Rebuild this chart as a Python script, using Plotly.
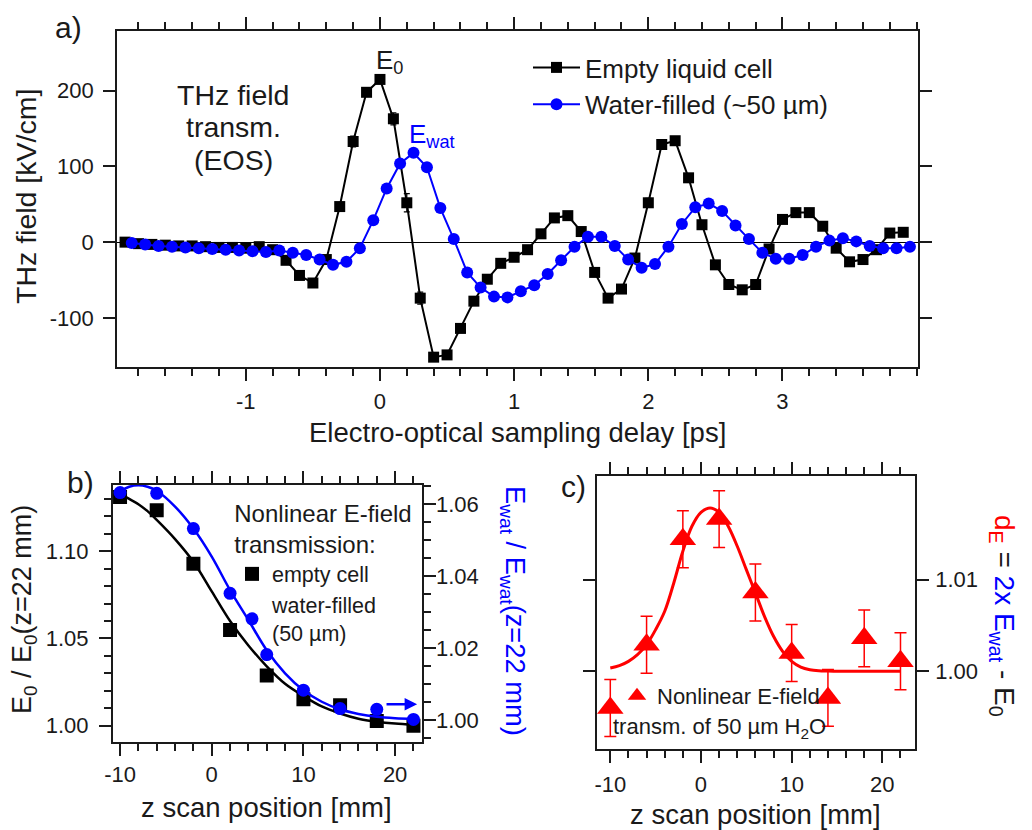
import plotly.graph_objects as go

# ---------------- panel a : THz field transients ----------------
t_empty = [-1.9, -1.8, -1.7, -1.6, -1.5, -1.4, -1.3, -1.2, -1.1, -1.0,
           -0.9, -0.8, -0.7, -0.6, -0.5, -0.4, -0.3, -0.2, -0.1,
           0.0, 0.1, 0.2, 0.3, 0.4, 0.5, 0.6, 0.7, 0.8, 0.9,
           1.0, 1.1, 1.2, 1.3, 1.4, 1.5, 1.6, 1.7, 1.8, 1.9,
           2.0, 2.1, 2.2, 2.3, 2.4, 2.5, 2.6, 2.7, 2.8, 2.9,
           3.0, 3.1, 3.2, 3.3, 3.4, 3.5, 3.6, 3.7, 3.8, 3.9]
E_empty = [0, -2, -3, -4, -5, -5, -6, -7, -7, -8,
           -6, -10, -24, -44, -54, -23, 47, 133, 198,
           215, 163, 52, -74, -152, -149, -114, -78, -49, -28,
           -20, -10, 11, 32, 35, 14, -40, -74, -62, -21,
           52, 129, 134, 85, 23, -30, -56, -63, -56, -9,
           30, 39, 39, 21, -8, -26, -23, -10, 12, 13]
err_empty = [3, 3, 3, 3, 3, 3, 3, 3, 3, 3,
             3, 3, 3, 3, 3, 3, 5, 7, 5,
             5, 8, 12, 8, 4, 3, 3, 3, 3, 3,
             3, 3, 3, 3, 3, 3, 3, 3, 3, 3,
             6, 4, 3, 3, 3, 3, 3, 3, 3, 3,
             3, 3, 3, 3, 3, 3, 3, 3, 3, 3]
t_water = [-1.85, -1.75, -1.65, -1.55, -1.45, -1.35, -1.25, -1.15, -1.05, -0.95,
           -0.85, -0.75, -0.65, -0.55, -0.45, -0.35, -0.25, -0.15, -0.05,
           0.05, 0.15, 0.25, 0.35, 0.45, 0.55, 0.65, 0.75, 0.85, 0.95,
           1.05, 1.15, 1.25, 1.35, 1.45, 1.55, 1.65, 1.75, 1.85, 1.95,
           2.05, 2.15, 2.25, 2.35, 2.45, 2.55, 2.65, 2.75, 2.85, 2.95,
           3.05, 3.15, 3.25, 3.35, 3.45, 3.55, 3.65, 3.75, 3.85, 3.95]
E_water = [-1, -3, -5, -6, -7, -8, -9, -10, -11, -12,
           -13, -11, -14, -17, -23, -30, -26, -8, 29,
           71, 104, 118, 99, 45, 4, -40, -60, -72, -73,
           -65, -57, -42, -24, -6, 7, 7, -5, -23, -34,
           -29, -6, 24, 46, 51, 41, 22, 4, -14, -22,
           -22, -17, -6, 2, 5, 1, -5, -8, -8, -6]
err_water = [2] * 19 + [3, 3, 3, 3, 5, 3, 3, 3, 3, 3] + [2] * 30

# ---------------- panel b : normalised peak fields vs z ----------------
z_pos = [-10, -6, -2, 2, 6, 10, 14, 18, 22]
ratio_empty = [1.1311, 1.1235, 1.0928, 1.0549, 1.0288, 1.0152, 1.0117, 1.0027, 1.0000]
ratio_water = [1.0632, 1.0630, 1.0532, 1.0352, 1.0182, 1.0083, 1.0032, 1.0030, 1.0002]
err_ratio_water = [0.0007] * 9
z_fit_b = [-10, -9, -8, -7, -6, -4, -2, 0, 2, 4, 6, 8, 10, 12, 14, 16, 18, 20, 22]
fit_empty = [1.133, 1.130, 1.127, 1.123, 1.118, 1.107, 1.094, 1.077, 1.060, 1.046,
             1.034, 1.024, 1.017, 1.011, 1.007, 1.004, 1.0023, 1.0012, 1.0005]
fit_water = [1.0635, 1.0648, 1.0652, 1.0648, 1.0637, 1.0593, 1.0532, 1.0454, 1.0361, 1.0278,
             1.0194, 1.0130, 1.0083, 1.0051, 1.0030, 1.0017, 1.0009, 1.0005, 1.0003]

# ---------------- panel c : d_E vs z ----------------
dE = [0.9960, 1.0029, 1.0144, 1.0166, 1.0086, 1.0020, 0.9971, 1.0036, 1.0011]
err_dE = [0.0031] * 9
z_fit_c = [-10, -9, -8, -7, -6, -5, -4, -3, -2, -1, 0, 1, 2, 3, 4, 5, 6, 7, 8, 9,
           10, 11, 12, 13, 14, 16, 18, 20, 22]
fit_dE = [1.00036, 1.00062, 1.00109, 1.00182, 1.00291, 1.00455, 1.00655, 1.00964,
          1.01309, 1.01582, 1.01734, 1.01782, 1.01734, 1.01582, 1.01364, 1.01109,
          1.00855, 1.00600, 1.00382, 1.00218, 1.00109, 1.00047, 1.00018, 1.00007,
          1.00004, 1.0, 1.0, 1.0, 1.0]

# tick labels
ticks_a_x = [-1, 0, 1, 2, 3]
ticks_a_y = [-100, 0, 100, 200]
ticks_z = [-10, 0, 10, 20]
ticks_b_left = [1.00, 1.05, 1.10]
ticks_b_right = [1.00, 1.02, 1.04, 1.06]
ticks_c = [1.00, 1.01]

W, H = 1032, 830
FONT = "Liberation Sans, Arial, sans-serif"
BLUE = "#0000ff"
RED = "#ff0000"
INK = "#1a1a1a"


def px(x):
    return x / W


def py(y):
    return 1 - y / H


fig = go.Figure()

# panel a traces
fig.add_trace(go.Scatter(
    x=t_empty, y=E_empty, mode="lines+markers", name="Empty liquid cell",
    line=dict(color="black", width=2),
    marker=dict(symbol="square", size=11, color="black"),
    error_y=dict(type="data", array=err_empty, color="black", thickness=1.2, width=3),
    xaxis="x", yaxis="y", legend="legend"))
fig.add_trace(go.Scatter(
    x=t_water, y=E_water, mode="lines+markers", name="Water-filled (~50 µm)",
    line=dict(color=BLUE, width=2),
    marker=dict(symbol="circle", size=12, color=BLUE),
    error_y=dict(type="data", array=err_water, color=BLUE, thickness=1.2, width=3),
    xaxis="x", yaxis="y", legend="legend"))

# panel b traces
fig.add_trace(go.Scatter(
    x=z_fit_b, y=fit_empty, mode="lines", line=dict(color="black", width=2.5, shape="spline"),
    showlegend=False, xaxis="x2", yaxis="y2"))
fig.add_trace(go.Scatter(
    x=z_fit_b, y=fit_water, mode="lines", line=dict(color=BLUE, width=2.5, shape="spline"),
    showlegend=False, xaxis="x2", yaxis="y3"))
fig.add_trace(go.Scatter(
    x=z_pos, y=ratio_empty, mode="markers", name="empty cell",
    marker=dict(symbol="square", size=14, color="black"),
    xaxis="x2", yaxis="y2", legend="legend2"))
fig.add_trace(go.Scatter(
    x=z_pos, y=ratio_water, mode="markers", name="water-filled<br>(50 µm)",
    marker=dict(symbol="circle", size=13, color=BLUE),
    error_y=dict(type="data", array=err_ratio_water, color=BLUE, thickness=1.5, width=4),
    xaxis="x2", yaxis="y3", legend="legend2"))

# panel c traces
fig.add_trace(go.Scatter(
    x=z_fit_c, y=fit_dE, mode="lines", line=dict(color=RED, width=3, shape="spline"),
    showlegend=False, xaxis="x3", yaxis="y4"))
fig.add_trace(go.Scatter(
    x=z_pos, y=dE, mode="markers", name="Nonlinear E-field",
    marker=dict(symbol="triangle-up", size=23, color=RED),
    error_y=dict(type="data", array=err_dE, color=RED, thickness=1.5, width=6),
    xaxis="x3", yaxis="y4", legend="legend3"))

base = dict(showline=True, linecolor=INK, linewidth=1.6, ticks="outside", tickcolor=INK,
            tickwidth=1.5, ticklen=12, showgrid=False, zeroline=False,
            tickfont=dict(family=FONT, size=22, color=INK), automargin=False)
minor_style = dict(ticks="outside", ticklen=7, tickwidth=1.5, tickcolor=INK, showgrid=False)

fig.update_layout(
    width=W, height=H, margin=dict(l=0, r=0, t=0, b=0),
    paper_bgcolor="white", plot_bgcolor="white",
    font=dict(family=FONT, color=INK),
    xaxis=dict(base, domain=[px(117), px(918)], anchor="y", range=[-1.96, 4.01],
               tickmode="array", tickvals=ticks_a_x, ticktext=[str(v) for v in ticks_a_x],
               mirror="ticks", ticklabelstandoff=2,
               minor=dict(minor_style, dtick=0.2, tick0=0)),
    yaxis=dict(base, domain=[py(367), py(31)], anchor="x", range=[-165, 279],
               tickmode="array", tickvals=ticks_a_y, ticktext=[str(v) for v in ticks_a_y],
               mirror="ticks", zeroline=True, zerolinecolor="black", zerolinewidth=1.2,
               ticklabelstandoff=5),
    xaxis2=dict(base, domain=[px(112.7), px(421.7)], anchor="y2", range=[-10.8, 22.9],
                tickmode="array", tickvals=ticks_z, ticktext=[str(v) for v in ticks_z],
                mirror="ticks", ticklabelstandoff=0,
                minor=dict(minor_style, dtick=2, tick0=0)),
    yaxis2=dict(base, domain=[py(741.7), py(485)], anchor="x2", range=[0.9908, 1.138],
                tickmode="array", tickvals=ticks_b_left,
                ticktext=["%.2f" % v for v in ticks_b_left], mirror=False,
                ticklabelstandoff=6,
                minor=dict(minor_style, dtick=0.01, tick0=1.0)),
    yaxis3=dict(base, domain=[py(741.7), py(485)], anchor="x2", overlaying="y2", side="right",
                range=[0.994, 1.0653], tickmode="array", tickvals=ticks_b_right,
                ticktext=["%.2f" % v for v in ticks_b_right], ticklabelstandoff=-4,
                minor=dict(minor_style, dtick=0.005, tick0=1.0)),
    xaxis3=dict(base, domain=[px(596.7), px(915)], anchor="y4", range=[-11.5, 23.6],
                tickmode="array", tickvals=ticks_z, ticktext=[str(v) for v in ticks_z],
                mirror="ticks", ticklabelstandoff=2,
                minor=dict(minor_style, dtick=2, tick0=0)),
    yaxis4=dict(base, domain=[py(749.3), py(476)], anchor="x3", side="right",
                range=[0.9915, 1.0213], tickmode="array", tickvals=ticks_c,
                ticktext=["%.2f" % v for v in ticks_c], mirror="ticks", ticklabelstandoff=2),
    legend=dict(x=px(528), y=py(44), xanchor="left", yanchor="top", bgcolor="rgba(0,0,0,0)",
                font=dict(family=FONT, size=26, color=INK), itemwidth=47,
                tracegroupgap=0, traceorder="normal"),
    legend2=dict(x=px(232), y=py(491), xanchor="left", yanchor="top", bgcolor="rgba(0,0,0,0)",
                 font=dict(family=FONT, size=21.5, color=INK), itemwidth=30,
                 title=dict(text="Nonlinear E-field<br>transmission:", side="top center",
                            font=dict(family=FONT, size=24, color=INK))),
    legend3=dict(x=px(617), y=py(675), xanchor="left", yanchor="top", bgcolor="rgba(0,0,0,0)",
                 font=dict(family=FONT, size=22, color=INK), itemwidth=30),
)

annos = [
    dict(text="a)", x=68, y=27, size=30, color=INK),
    dict(text="b)", x=80, y=482, size=30, color=INK),
    dict(text="c)", x=573, y=486, size=30, color=INK),
    dict(text="Electro-optical sampling delay [ps]", x=517, y=432, size=27.5, color=INK),
    dict(text="THz field [kV/cm]", x=26, y=197, size=28.5, color=INK, angle=-90),
    dict(text="THz field", x=233, y=95, size=28.5, color=INK),
    dict(text="transm.", x=233, y=127, size=28.5, color=INK),
    dict(text="(EOS)", x=233, y=160, size=28.5, color=INK),
    dict(text="E<sub>0</sub>", x=389, y=62, size=26, color=INK),
    dict(text="E<sub>wat</sub>", x=432, y=136, size=26, color=BLUE),
    dict(text="z scan position [mm]", x=266, y=807, size=27.5, color=INK),
    dict(text="E<sub>0</sub> / E<sub>0</sub>(z=22 mm)", x=24, y=610, size=27,
         color=INK, angle=-90),
    dict(text="E<sub>wat</sub> / E<sub>wat</sub>(z=22 mm)", x=514, y=611, size=27.3,
         color=BLUE, angle=90),
    dict(text="z scan position [mm]", x=755, y=814, size=27.5, color=INK),
    dict(text="<span style='color:#ff0000'>d<sub>E</sub></span> = "
              "<span style='color:#0000ff'>2x E<sub>wat</sub></span> - E<sub>0</sub>",
         x=1003, y=616, size=28, color=INK, angle=90),
    dict(text="transm. of 50 µm H<sub>2</sub>O", x=719, y=728, size=22, color=INK),
]
for a in annos:
    fig.add_annotation(text=a["text"], x=px(a["x"]), y=py(a["y"]), xref="paper", yref="paper",
                       xanchor="center", yanchor="middle", showarrow=False,
                       textangle=a.get("angle", 0),
                       font=dict(family=FONT, size=a["size"], color=a["color"]))

# arrow in panel b pointing to the right-hand axis
fig.add_annotation(x=22.4, y=1.0044, ax=18.9, ay=1.0044, xref="x2", yref="y3",
                   axref="x2", ayref="y3", text="", showarrow=True, arrowhead=2,
                   arrowsize=1, arrowwidth=2.5, arrowcolor=BLUE)

# remove the default page margin so the 1032x830 figure fills the window exactly
fig.write_html("out.html",
               config={"displayModeBar": False},
               post_script="document.body.style.margin='0px';"
                           "document.body.style.overflow='hidden';")
